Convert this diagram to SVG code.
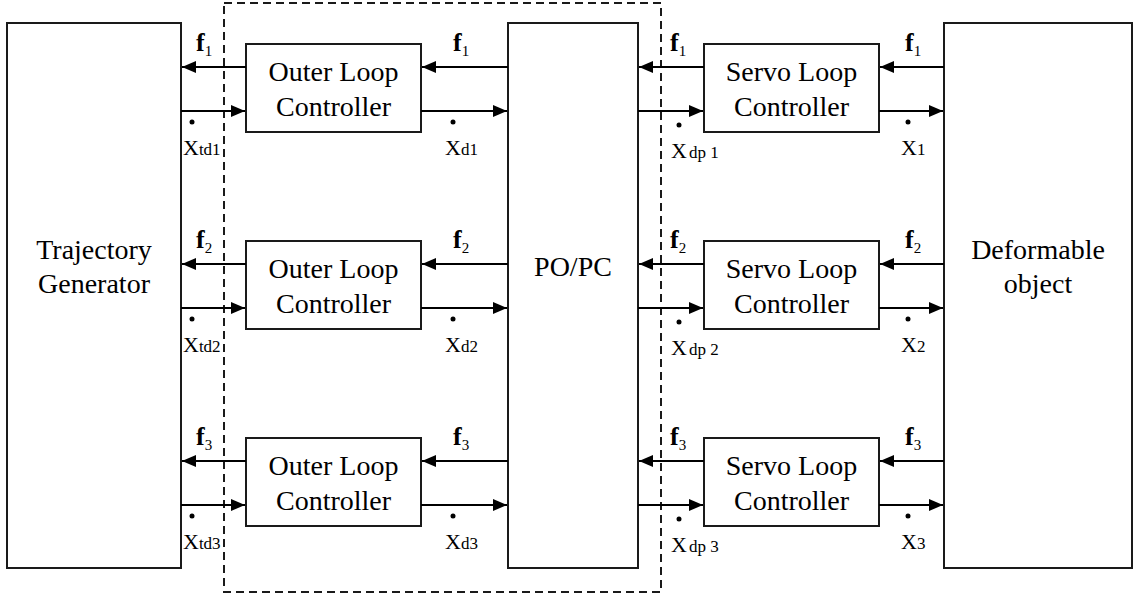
<svg xmlns="http://www.w3.org/2000/svg" width="1139" height="598" viewBox="0 0 1139 598">
  <style>
    .box { fill: #ffffff; stroke: #1a1a1a; stroke-width: 2; }
    .frame { fill: none; stroke: #1a1a1a; stroke-width: 2; stroke-dasharray: 8 5; }
    .wire { stroke: #000000; stroke-width: 2; fill: none; }
    text { font-family: "Liberation Serif", "DejaVu Serif", "Times New Roman", serif; fill: #000000; }
    .lbl { font-size: 28px; text-anchor: middle; }
    .f { font-size: 26px; font-weight: bold; }
    .fs { font-size: 15px; font-weight: normal; }
    .x { font-size: 22px; }
    .xs { font-size: 17px; }
  </style>
  <defs>
    <marker id="arrow" markerWidth="14" markerHeight="12" refX="14" refY="6" orient="auto" markerUnits="userSpaceOnUse">
      <path d="M0,0 L14,6 L0,12 Z" fill="#000000"/>
    </marker>
  </defs>

  <rect width="1139" height="598" fill="#ffffff"/>

  <!-- dashed boundary around outer loop controllers and PO/PC -->
  <rect class="frame" x="224" y="3" width="437" height="589"/>

  <g id="trajectory-generator">
    <rect class="box" x="7" y="23" width="174" height="545"/>
    <text class="lbl" x="94" y="259" font-family="Liberation Serif, serif">Trajectory</text>
    <text class="lbl" x="94" y="293" font-family="Liberation Serif, serif">Generator</text>
  </g>

  <g id="popc">
    <rect class="box" x="508" y="23" width="130" height="545"/>
    <text class="lbl" x="573" y="276">PO/PC</text>
  </g>

  <g id="deformable-object">
    <rect class="box" x="944" y="23" width="188" height="545"/>
    <text class="lbl" x="1038" y="259">Deformable</text>
    <text class="lbl" x="1038" y="293">object</text>
  </g>

  <g id="outer-loop-1">
    <rect class="box" x="246" y="44" width="175" height="88"/>
    <text class="lbl" x="333.5" y="81">Outer Loop</text>
    <text class="lbl" x="333.5" y="116">Controller</text>
  </g>
  <g id="outer-loop-2">
    <rect class="box" x="246" y="241" width="175" height="88"/>
    <text class="lbl" x="333.5" y="278">Outer Loop</text>
    <text class="lbl" x="333.5" y="313">Controller</text>
  </g>
  <g id="outer-loop-3">
    <rect class="box" x="246" y="438" width="175" height="88"/>
    <text class="lbl" x="333.5" y="475">Outer Loop</text>
    <text class="lbl" x="333.5" y="510">Controller</text>
  </g>

  <g id="servo-loop-1">
    <rect class="box" x="704" y="44" width="175" height="88"/>
    <text class="lbl" x="791.5" y="81">Servo Loop</text>
    <text class="lbl" x="791.5" y="116">Controller</text>
  </g>
  <g id="servo-loop-2">
    <rect class="box" x="704" y="241" width="175" height="88"/>
    <text class="lbl" x="791.5" y="278">Servo Loop</text>
    <text class="lbl" x="791.5" y="313">Controller</text>
  </g>
  <g id="servo-loop-3">
    <rect class="box" x="704" y="438" width="175" height="88"/>
    <text class="lbl" x="791.5" y="475">Servo Loop</text>
    <text class="lbl" x="791.5" y="510">Controller</text>
  </g>

  <g id="connectors">
    <!-- row 1 -->
    <line class="wire" x1="246" y1="67" x2="182" y2="67" marker-end="url(#arrow)"/>
    <line class="wire" x1="181" y1="111" x2="245" y2="111" marker-end="url(#arrow)"/>
    <line class="wire" x1="508" y1="67" x2="422" y2="67" marker-end="url(#arrow)"/>
    <line class="wire" x1="421" y1="111" x2="507" y2="111" marker-end="url(#arrow)"/>
    <line class="wire" x1="704" y1="67" x2="639" y2="67" marker-end="url(#arrow)"/>
    <line class="wire" x1="638" y1="111" x2="703" y2="111" marker-end="url(#arrow)"/>
    <line class="wire" x1="944" y1="67" x2="880" y2="67" marker-end="url(#arrow)"/>
    <line class="wire" x1="879" y1="111" x2="943" y2="111" marker-end="url(#arrow)"/>
    <!-- row 2 -->
    <line class="wire" x1="246" y1="264" x2="182" y2="264" marker-end="url(#arrow)"/>
    <line class="wire" x1="181" y1="308" x2="245" y2="308" marker-end="url(#arrow)"/>
    <line class="wire" x1="508" y1="264" x2="422" y2="264" marker-end="url(#arrow)"/>
    <line class="wire" x1="421" y1="308" x2="507" y2="308" marker-end="url(#arrow)"/>
    <line class="wire" x1="704" y1="264" x2="639" y2="264" marker-end="url(#arrow)"/>
    <line class="wire" x1="638" y1="308" x2="703" y2="308" marker-end="url(#arrow)"/>
    <line class="wire" x1="944" y1="264" x2="880" y2="264" marker-end="url(#arrow)"/>
    <line class="wire" x1="879" y1="308" x2="943" y2="308" marker-end="url(#arrow)"/>
    <!-- row 3 -->
    <line class="wire" x1="246" y1="461" x2="182" y2="461" marker-end="url(#arrow)"/>
    <line class="wire" x1="181" y1="505" x2="245" y2="505" marker-end="url(#arrow)"/>
    <line class="wire" x1="508" y1="461" x2="422" y2="461" marker-end="url(#arrow)"/>
    <line class="wire" x1="421" y1="505" x2="507" y2="505" marker-end="url(#arrow)"/>
    <line class="wire" x1="704" y1="461" x2="639" y2="461" marker-end="url(#arrow)"/>
    <line class="wire" x1="638" y1="505" x2="703" y2="505" marker-end="url(#arrow)"/>
    <line class="wire" x1="944" y1="461" x2="880" y2="461" marker-end="url(#arrow)"/>
    <line class="wire" x1="879" y1="505" x2="943" y2="505" marker-end="url(#arrow)"/>

    <!-- force labels -->
    <text class="f" x="196" y="51">f<tspan class="fs" dy="5">1</tspan></text>
    <text class="f" x="453" y="51">f<tspan class="fs" dy="5">1</tspan></text>
    <text class="f" x="670" y="51">f<tspan class="fs" dy="5">1</tspan></text>
    <text class="f" x="905" y="51">f<tspan class="fs" dy="5">1</tspan></text>
    <text class="f" x="196" y="248">f<tspan class="fs" dy="5">2</tspan></text>
    <text class="f" x="453" y="248">f<tspan class="fs" dy="5">2</tspan></text>
    <text class="f" x="670" y="248">f<tspan class="fs" dy="5">2</tspan></text>
    <text class="f" x="905" y="248">f<tspan class="fs" dy="5">2</tspan></text>
    <text class="f" x="196" y="445">f<tspan class="fs" dy="5">3</tspan></text>
    <text class="f" x="453" y="445">f<tspan class="fs" dy="5">3</tspan></text>
    <text class="f" x="670" y="445">f<tspan class="fs" dy="5">3</tspan></text>
    <text class="f" x="905" y="445">f<tspan class="fs" dy="5">3</tspan></text>

    <!-- velocity labels (dot marks the time derivative) -->
    <g fill="#000000">
      <circle cx="192" cy="122" r="2.5"/>
      <circle cx="453" cy="122" r="2.5"/>
      <circle cx="679" cy="125" r="2.5"/>
      <circle cx="908" cy="122" r="2.5"/>
      <circle cx="192" cy="319" r="2.5"/>
      <circle cx="453" cy="319" r="2.5"/>
      <circle cx="679" cy="322" r="2.5"/>
      <circle cx="908" cy="319" r="2.5"/>
      <circle cx="192" cy="516" r="2.5"/>
      <circle cx="453" cy="516" r="2.5"/>
      <circle cx="679" cy="519" r="2.5"/>
      <circle cx="908" cy="516" r="2.5"/>
    </g>
    <text class="x" x="183" y="155">X<tspan class="xs">td1</tspan></text>
    <text class="x" x="445" y="155">X<tspan class="xs">d1</tspan></text>
    <text class="x" x="671" y="158">X<tspan class="xs" dx="2">dp 1</tspan></text>
    <text class="x" x="901" y="155">X<tspan class="xs">1</tspan></text>
    <text class="x" x="183" y="352">X<tspan class="xs">td2</tspan></text>
    <text class="x" x="445" y="352">X<tspan class="xs">d2</tspan></text>
    <text class="x" x="671" y="355">X<tspan class="xs" dx="2">dp 2</tspan></text>
    <text class="x" x="901" y="352">X<tspan class="xs">2</tspan></text>
    <text class="x" x="183" y="549">X<tspan class="xs">td3</tspan></text>
    <text class="x" x="445" y="549">X<tspan class="xs">d3</tspan></text>
    <text class="x" x="671" y="552">X<tspan class="xs" dx="2">dp 3</tspan></text>
    <text class="x" x="901" y="549">X<tspan class="xs">3</tspan></text>
  </g>
</svg>
